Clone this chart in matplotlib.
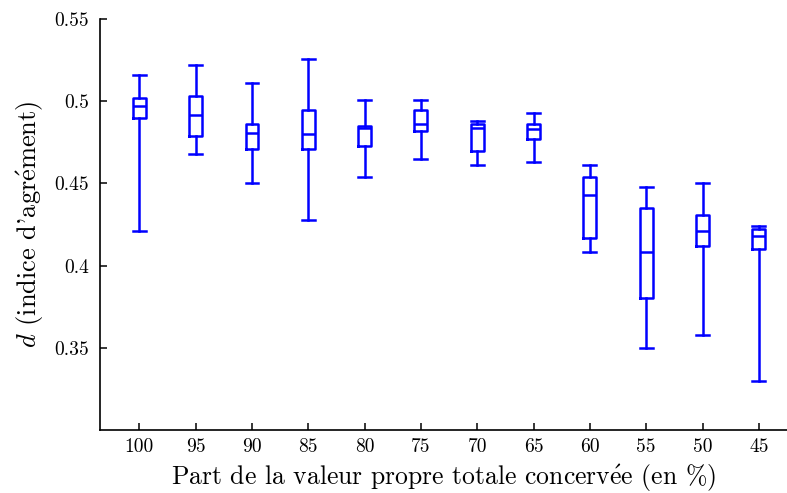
from matplotlib import pyplot as plt

plt.rcParams["font.family"] = ["cmr10", "DejaVu Serif"]
plt.rcParams["mathtext.fontset"] = "cm"
plt.rcParams["axes.formatter.use_mathtext"] = True

# part de la valeur propre conservée (%)
parts = ["100", "95", "90", "85", "80", "75", "70", "65", "60", "55", "50", "45"]
whis_hi = [0.516, 0.522, 0.511, 0.526, 0.501, 0.501, 0.488, 0.493, 0.461, 0.448, 0.450, 0.424]
q3 = [0.502, 0.503, 0.486, 0.495, 0.485, 0.495, 0.486, 0.486, 0.454, 0.435, 0.431, 0.422]
med = [0.497, 0.492, 0.481, 0.480, 0.484, 0.486, 0.484, 0.483, 0.443, 0.408, 0.421, 0.418]
q1 = [0.490, 0.479, 0.471, 0.471, 0.473, 0.482, 0.470, 0.477, 0.417, 0.380, 0.412, 0.410]
whis_lo = [0.421, 0.468, 0.450, 0.428, 0.454, 0.465, 0.461, 0.463, 0.408, 0.350, 0.358, 0.330]

stats = []
for i in range(len(parts)):
    stats.append(dict(whishi=whis_hi[i], q3=q3[i], med=med[i], q1=q1[i], whislo=whis_lo[i]))

fig = plt.figure(figsize=(7.87, 4.93), dpi=100)
ax = fig.add_axes([0.127, 0.128, 0.873, 0.833])

blue = "#0000ff"
lw = 1.8
ax.bxp(stats, positions=range(1, len(parts) + 1), widths=0.23, showfliers=False,
       boxprops=dict(color=blue, linewidth=lw),
       medianprops=dict(color=blue, linewidth=lw),
       whiskerprops=dict(color=blue, linewidth=lw),
       capprops=dict(color=blue, linewidth=lw),
       capwidths=0.23)

ax.set_xlim(0.3, 12.5)
ax.set_ylim(0.3, 0.55)
ax.set_xticks(range(1, len(parts) + 1))
ax.set_xticklabels(parts)
ax.set_yticks([0.35, 0.4, 0.45, 0.5, 0.55])
ax.set_yticklabels(["0.35", "0.4", "0.45", "0.5", "0.55"])

ax.spines["right"].set_visible(False)
ax.spines["top"].set_visible(False)
ax.spines["left"].set_linewidth(1.2)
ax.spines["bottom"].set_linewidth(1.2)
ax.tick_params(direction="in", length=5, width=1.1, labelsize=14, pad=8)
ax.tick_params(axis="x", pad=6)

# é via mathtext accent, cmr10 has no proper é glyph
ax.set_xlabel(r"Part de la valeur propre totale concerv$\acute{\mathrm{e}}$e (en %)",
              fontsize=18.5, va="center")
ax.set_ylabel(r"$d$ (indice d'agr$\acute{\mathrm{e}}$ment)", fontsize=19, va="center")
ax.xaxis.set_label_coords(0.5, -0.117)
ax.yaxis.set_label_coords(-0.102, 0.5)

plt.savefig("out.png", dpi=100)
